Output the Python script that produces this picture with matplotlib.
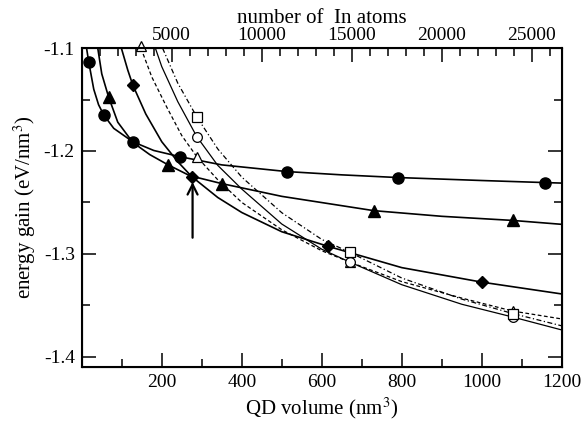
import matplotlib
matplotlib.use("Agg")
import matplotlib.pyplot as plt
from matplotlib.ticker import MultipleLocator

plt.rcParams['font.family'] = ['Liberation Serif', 'DejaVu Serif']
plt.rcParams['mathtext.fontset'] = 'stix'
plt.rcParams['axes.unicode_minus'] = False

# markers (QD volume in nm^3, energy gain in eV/nm^3)
circ_vol = [17.5, 55, 127.5, 245, 512.5, 790, 1157.5]
circ_e = [-1.1136, -1.165, -1.191, -1.2055, -1.220, -1.2258, -1.2307]
tri_vol = [67, 215, 350, 730, 1077]
tri_e = [-1.1474, -1.2133, -1.2317, -1.258, -1.2675]
dia_vol = [127.5, 275, 615, 1000]
dia_e = [-1.1358, -1.2249, -1.2926, -1.3275]
otri_vol = [147.5, 287.5, 670, 1077]
otri_e = [-1.098, -1.2055, -1.308, -1.3556]
ocirc_vol = [287.5, 670, 1077]
ocirc_e = [-1.186, -1.308, -1.3614]
osq_vol = [287.5, 670, 1077]
osq_e = [-1.1668, -1.2985, -1.358]

# fitted curves
circ_cv = [12, 17.5, 30, 42, 55, 80, 127.5, 180, 245, 350, 512.5, 650, 790, 1000, 1157.5, 1200]
circ_ce = [-1.100, -1.1136, -1.140, -1.155, -1.165, -1.178, -1.191, -1.1995, -1.2055,
           -1.2135, -1.220, -1.2232, -1.2258, -1.2287, -1.2307, -1.2312]
tri_cv = [40, 50, 67, 90, 127.5, 170, 215, 270, 350, 500, 730, 900, 1077, 1200]
tri_ce = [-1.100, -1.125, -1.1474, -1.172, -1.1916, -1.2035, -1.2133, -1.224, -1.2317,
          -1.2441, -1.258, -1.2635, -1.2675, -1.2713]
dia_cv = [99, 115, 127.5, 160, 200, 240, 275, 340, 400, 500, 615, 800, 1000, 1200]
dia_ce = [-1.100, -1.1213, -1.1358, -1.164, -1.191, -1.2104, -1.2249, -1.2452, -1.2598,
          -1.2785, -1.2926, -1.3134, -1.3275, -1.339]
otri_cv = [148, 175, 212, 250, 287.5, 340, 400, 500, 600, 670, 800, 950, 1077, 1200]
otri_ce = [-1.100, -1.128, -1.157, -1.185, -1.2055, -1.228, -1.250, -1.2766, -1.297,
           -1.308, -1.327, -1.343, -1.3556, -1.3633]
ocirc_cv = [184, 200, 240, 287.5, 340, 400, 500, 600, 670, 800, 950, 1077, 1200]
ocirc_ce = [-1.100, -1.118, -1.152, -1.186, -1.214, -1.237, -1.271, -1.2955, -1.308,
            -1.330, -1.349, -1.3614, -1.374]
osq_cv = [202, 240, 287.5, 340, 400, 500, 600, 670, 800, 950, 1077, 1200]
osq_ce = [-1.100, -1.134, -1.1668, -1.198, -1.2254, -1.260, -1.286, -1.2985, -1.3235,
          -1.344, -1.358, -1.370]

x_ticks = [200, 400, 600, 800, 1000, 1200]
y_ticks = [-1.1, -1.2, -1.3, -1.4]
atom_ticks = [5000, 10000, 15000, 20000, 25000]
atoms_per_nm3 = 22.22

fig = plt.figure(figsize=(5.84, 4.26), dpi=100)
ax = fig.add_axes([0.140, 0.1385, 0.822, 0.7485])

lw = 1.2
ax.plot(circ_cv, circ_ce, '-', color='black', lw=lw)
ax.plot(tri_cv, tri_ce, '-', color='black', lw=lw)
ax.plot(dia_cv, dia_ce, '-', color='black', lw=lw)
ax.plot(otri_cv, otri_ce, '--', color='black', lw=0.9, dashes=(3, 2))
ax.plot(ocirc_cv, ocirc_ce, '-', color='black', lw=0.9)
ax.plot(osq_cv, osq_ce, '-.', color='black', lw=0.9, dashes=(4, 2, 1, 2))

ax.plot(circ_vol, circ_e, 'o', color='black', ms=8)
ax.plot(tri_vol, tri_e, '^', color='black', ms=8)
ax.plot(dia_vol, dia_e, 'D', color='black', ms=6.5)
ax.plot(otri_vol, otri_e, '^', mfc='white', mec='black', mew=0.9, ms=7, clip_on=False)
ax.plot(ocirc_vol, ocirc_e, 'o', mfc='white', mec='black', mew=0.9, ms=7)
ax.plot(osq_vol, osq_e, 's', mfc='white', mec='black', mew=0.9, ms=6.5)

ax.annotate('', xy=(277, -1.2275), xytext=(277, -1.287),
            arrowprops=dict(arrowstyle='->', color='black', lw=1.6, mutation_scale=18))

ax.set_xlim(0, 1200)
ax.set_ylim(-1.41, -1.1)
ax.set_xticks(x_ticks)
ax.set_yticks(y_ticks)
ax.set_yticklabels(['-1.1', '-1.2', '-1.3', '-1.4'])
ax.xaxis.set_minor_locator(MultipleLocator(100))
ax.yaxis.set_minor_locator(MultipleLocator(0.05))
ax.tick_params(which='both', direction='in', labelsize=14, width=1.1,
               top=False, right=True, pad=5)
ax.tick_params(which='major', length=10)
ax.tick_params(which='minor', length=5.5)
for s in ax.spines.values():
    s.set_linewidth(1.5)
ax.set_xlabel('QD volume (nm$^3$)', fontsize=15, labelpad=3)
ax.set_ylabel('energy gain (eV/nm$^3$)', fontsize=15, labelpad=4)

ax2 = ax.twiny()
ax2.set_xlim(0, 1200 * atoms_per_nm3)
ax2.set_xticks(atom_ticks)
ax2.xaxis.set_minor_locator(MultipleLocator(1000))
ax2.tick_params(which='both', direction='in', labelsize=14, width=1.1, pad=3)
ax2.tick_params(which='major', length=10)
ax2.tick_params(which='minor', length=5.5)
ax2.set_xlabel('number of  In atoms', fontsize=15, labelpad=3)

fig.savefig('out.png', dpi=100)
